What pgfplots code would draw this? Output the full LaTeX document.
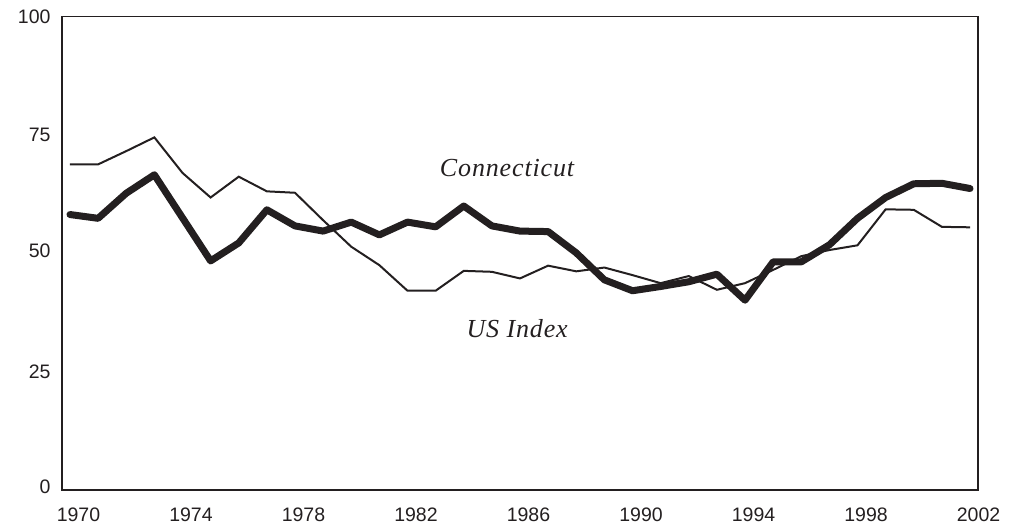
\documentclass[border=0pt]{standalone}
\usepackage{fontspec}
\setmainfont{Liberation Sans}
\newfontfamily\timesfont[LetterSpace=3.3]{Liberation Serif}
\usepackage{pgfplots}
\pgfplotsset{compat=1.18}
\definecolor{ink}{HTML}{231F20}
\begin{document}
\begin{tikzpicture}
\useasboundingbox (-62pt,-37pt) rectangle (954pt,490pt);
\begin{axis}[
  scale only axis,
  width=916pt, height=473.3pt,
  at={(0,0)}, anchor=south west,
  xmin=1969.716, xmax=2002.284,
  ymin=0, ymax=100,
  xtick={1970,1974,...,2002},
  ytick={0,25,50,75,100},
  yticklabels={\raisebox{7pt}{0},25,\raisebox{6pt}{50},75,100},
  major tick length=0pt,
  /pgf/number format/1000 sep={},
  /pgf/number format/assume math mode=true,
  tick label style={font=\fontsize{19.5}{21}\selectfont, text=ink},
  xticklabel style={xshift=8.5pt, yshift=-14pt},
  yticklabel style={xshift=-8pt},
  axis line style={ink, line width=1.3pt},
  clip=false,
]
% US Index (thin)
\addplot[ink, line width=2pt, line join=miter] coordinates {
(1970,68.8)(1971,68.8)(1972,71.6)(1973,74.5)(1974,67.0)(1975,61.8)(1976,66.2)
(1977,63.1)(1978,62.8)(1979,57.0)(1980,51.4)(1981,47.5)(1982,42.1)(1983,42.1)
(1984,46.3)(1985,46.1)(1986,44.7)(1987,47.4)(1988,46.2)(1989,47.0)(1990,45.4)
(1991,43.7)(1992,45.2)(1993,42.3)(1994,43.7)(1995,46.5)(1996,49.4)(1997,50.7)
(1998,51.7)(1999,59.3)(2000,59.2)(2001,55.6)(2002,55.5)
};
% Connecticut (thick)
\addplot[ink, line width=7pt, line join=round, line cap=round] coordinates {
(1970,58.2)(1971,57.4)(1972,62.7)(1973,66.6)(1974,57.5)(1975,48.4)(1976,52.2)
(1977,59.2)(1978,55.8)(1979,54.7)(1980,56.6)(1981,53.9)(1982,56.6)(1983,55.6)
(1984,60.0)(1985,55.8)(1986,54.7)(1987,54.6)(1988,50.1)(1989,44.4)(1990,42.1)
(1991,43.0)(1992,44.0)(1993,45.6)(1994,40.1)(1995,48.2)(1996,48.2)(1997,51.8)
(1998,57.4)(1999,61.8)(2000,64.7)(2001,64.8)(2002,63.7)
};
\node[text=ink, font=\timesfont\itshape\fontsize{26}{28}\selectfont] at (axis cs:1985.54,68.0) {Connecticut};
\node[text=ink, font=\timesfont\itshape\fontsize{26}{28}\selectfont] at (axis cs:1985.9,34.2) {US Index};
\end{axis}
\end{tikzpicture}
\end{document}
